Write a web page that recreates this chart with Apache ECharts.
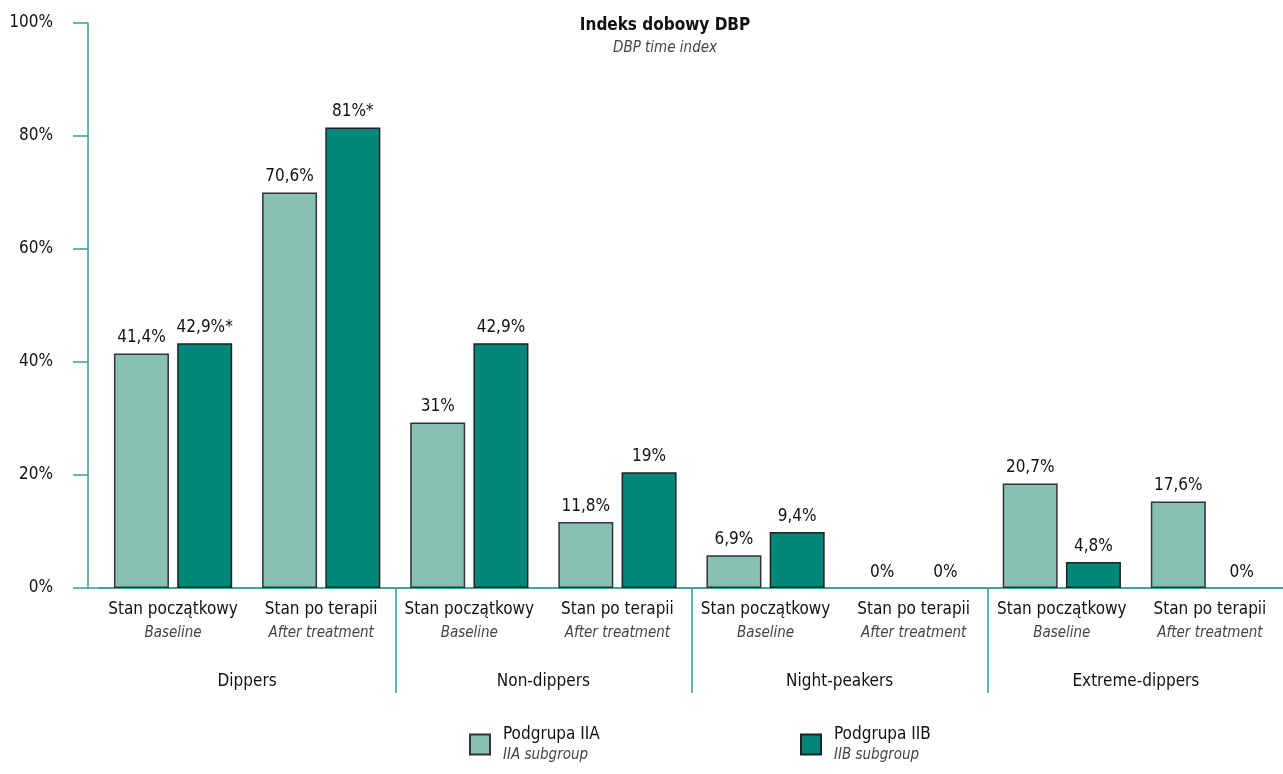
<!DOCTYPE html>
<html>
<head>
<meta charset="utf-8">
<script src="https://cdn.jsdelivr.net/npm/echarts@6/dist/echarts.min.js"></script>
<style>html,body{margin:0;padding:0;background:#fff}#c{width:1283px;height:774px}</style>
</head>
<body>
<div id="c"></div>
<script>
const categories = ['Stan początkowy', 'Stan po terapii', 'Stan początkowy', 'Stan po terapii', 'Stan początkowy', 'Stan po terapii', 'Stan początkowy', 'Stan po terapii'];
const categoriesEn = ['Baseline', 'After treatment', 'Baseline', 'After treatment', 'Baseline', 'After treatment', 'Baseline', 'After treatment'];
const groups = ['Dippers', 'Non-dippers', 'Night-peakers', 'Extreme-dippers'];
// bar heights as drawn in the picture
const valuesIIA = [41.5, 70.0, 29.3, 11.7, 5.8, 0, 18.5, 15.3];
const valuesIIB = [43.3, 81.5, 43.3, 20.5, 9.9, 0, 4.6, 0];
// printed labels
const labelsIIA = ['41,4%', '70,6%', '31%', '11,8%', '6,9%', '0%', '20,7%', '17,6%'];
const labelsIIB = ['42,9%*', '81%*', '42,9%', '19%', '9,4%', '0%', '4,8%', '0%'];
const yTicks = [0, 20, 40, 60, 80, 100];

const FONT = "'Liberation Sans Narrow', 'DejaVu Sans Condensed', 'Roboto Condensed', sans-serif";
const TEAL = '#3a9e90';
const LIGHT = '#87c1b4';
const DARK = '#00877a';

const toData = arr => arr.map(v => v === 0 ? { value: v, itemStyle: { borderWidth: 0 } } : v);

const legendText = () => ({
  padding: [0, 0, 0, 8],
  rich: {
    a: { fontFamily: FONT, fontSize: 17, color: '#111', lineHeight: 21 },
    b: { fontFamily: FONT, fontSize: 15, fontStyle: 'italic', color: '#444', lineHeight: 20 }
  }
});

const chart = echarts.init(document.getElementById('c'));
chart.setOption({
  animation: false,
  textStyle: { fontFamily: FONT },
  title: {
    text: 'Indeks dobowy DBP',
    subtext: 'DBP time index',
    left: 660, top: 12, textAlign: 'center', itemGap: 7,
    textStyle: { fontFamily: FONT, fontSize: 17, fontWeight: 'bold', color: '#111' },
    subtextStyle: { fontFamily: FONT, fontSize: 15, fontStyle: 'italic', color: '#444' }
  },
  legend: [
    { data: ['Podgrupa IIA'], left: 469, top: 726, padding: 0, itemWidth: 20, itemHeight: 20, icon: 'rect',
      formatter: n => '{a|' + n + '}\n{b|IIA subgroup}', textStyle: legendText() },
    { data: ['Podgrupa IIB'], left: 800, top: 726, padding: 0, itemWidth: 20, itemHeight: 20, icon: 'rect',
      formatter: n => '{a|' + n + '}\n{b|IIB subgroup}', textStyle: legendText() }
  ],
  grid: [
    { left: 99, right: -1, top: 23, bottom: 186, outerBoundsMode: 'none' },
    { left: 88, right: 0, top: 23, bottom: 186, outerBoundsMode: 'none' }
  ],
  xAxis: [
    { gridIndex: 0, type: 'category', data: categories,
      axisLine: { show: true, lineStyle: { color: TEAL, width: 1.5 } },
      axisTick: { show: true, length: 105, interval: (i) => i === 2 || i === 4 || i === 6, lineStyle: { color: TEAL, width: 1.5 } },
      axisLabel: { interval: 0, margin: 9,
        formatter: (v, i) => '{a|' + v + '}\n{b|' + categoriesEn[i] + '}',
        rich: {
          a: { fontFamily: FONT, fontSize: 17, color: '#111', lineHeight: 25 },
          b: { fontFamily: FONT, fontSize: 15, fontStyle: 'italic', color: '#444', lineHeight: 22 } } } },
    { gridIndex: 0, type: 'category', data: groups, position: 'bottom', offset: 82,
      axisLine: { show: false }, axisTick: { show: false },
      axisLabel: { interval: 0, margin: 3, fontFamily: FONT, fontSize: 17, color: '#111' } },
    { gridIndex: 1, type: 'value', min: 0, max: 1, show: true,
      axisLine: { show: true, onZero: false, lineStyle: { color: TEAL, width: 1.5 } },
      axisTick: { show: false }, axisLabel: { show: false }, splitLine: { show: false } }
  ],
  yAxis: [
    { gridIndex: 0, type: 'value', min: 0, max: 100, show: false, splitLine: { show: false } },
    { gridIndex: 1, type: 'value', min: yTicks[0], max: yTicks[yTicks.length - 1], interval: 20,
      axisLine: { show: true, lineStyle: { color: TEAL, width: 1.5 } },
      axisTick: { show: true, length: 15, lineStyle: { color: TEAL, width: 1.5 } },
      axisLabel: { margin: 35, formatter: '{value}%', fontFamily: FONT, fontSize: 17, color: '#111' },
      splitLine: { show: false } }
  ],
  series: [
    { name: 'Podgrupa IIA', type: 'bar', xAxisIndex: 0, yAxisIndex: 0, data: toData(valuesIIA),
      barWidth: 55, barGap: '15%',
      itemStyle: { color: LIGHT, borderColor: '#333', borderWidth: 1.5 },
      label: { show: true, position: 'top', distance: 7, fontFamily: FONT, fontSize: 17, color: '#111',
        formatter: p => labelsIIA[p.dataIndex] } },
    { name: 'Podgrupa IIB', type: 'bar', xAxisIndex: 0, yAxisIndex: 0, data: toData(valuesIIB),
      barWidth: 55, barGap: '15%',
      itemStyle: { color: DARK, borderColor: '#222', borderWidth: 1.5 },
      label: { show: true, position: 'top', distance: 7, fontFamily: FONT, fontSize: 17, color: '#111',
        formatter: p => labelsIIB[p.dataIndex] } }
  ]
});
</script>
</body>
</html>
